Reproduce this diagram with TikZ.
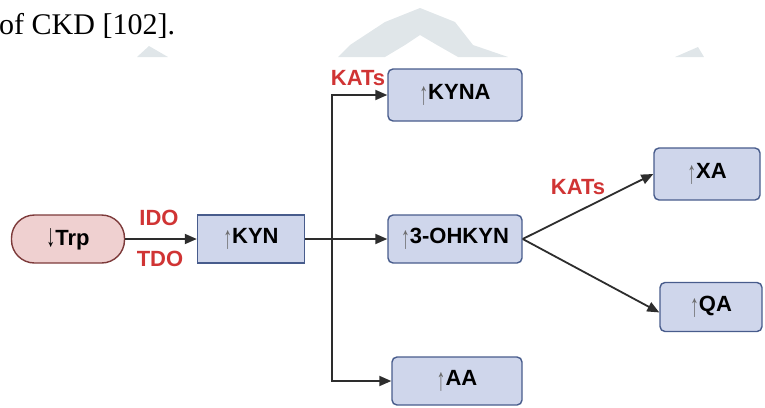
\documentclass[tikz,border=0pt]{standalone}
\usepackage{fontspec}
\setmainfont{Liberation Sans}
\newfontfamily\capfont{Liberation Serif}
\usetikzlibrary{arrows.meta,positioning,calc}
\definecolor{boxfill}{RGB}{207,214,235}
\definecolor{boxline}{RGB}{72,92,140}
\definecolor{trpfill}{RGB}{239,208,208}
\definecolor{trpline}{RGB}{125,58,58}
\definecolor{enzred}{RGB}{208,52,52}
\definecolor{wire}{RGB}{45,45,45}
\definecolor{arrgray}{RGB}{105,105,105}
\definecolor{wmark}{RGB}{224,230,233}
\newcommand\upar{\textcolor{arrgray}{\mdseries\raisebox{-0.25em}{\scalebox{0.8}[1.45]{↑}}}}
\newcommand\dnar{{\mdseries\raisebox{-0.05em}{\scalebox{0.8}[1.45]{↓}}}}
\tikzset{
 metbox/.style={draw=boxline,fill=boxfill,line width=1.4pt,rounded corners=5pt,
             align=center,inner sep=0pt,font=\bfseries\fontsize{22}{24}\selectfont},
 trpbox/.style={draw=trpline,fill=trpfill,line width=1.4pt,rounded corners=23pt,
             align=center,inner sep=0pt,font=\bfseries\fontsize{22}{24}\selectfont},
 enzyme/.style={text=enzred,inner sep=0pt,font=\bfseries\fontsize{22}{24}\selectfont},
 arrow/.style={-{Triangle[length=12pt,width=10pt]},line width=1.8pt,draw=wire}
}
\begin{document}
\begin{tikzpicture}[x=1pt,y=-1pt]
\useasboundingbox (0,0) rectangle (765,407);
% faint watermark behind the figure
\fill[wmark] (338,57) -- (350,45) -- (385,22) -- (420,8) -- (455,22) -- (473,45) -- (508,57)
  -- (458,57) -- (437,45) -- (420,35) -- (405,45) -- (385,57) -- cycle;
\fill[wmark] (137,57) -- (149,46) -- (168,57) -- cycle;
\fill[wmark] (675,57) -- (698,47) -- (704,57) -- cycle;
\node[anchor=base west,inner sep=0pt,font=\capfont\fontsize{30}{32}\selectfont] (cap) at (-1,34) {of CKD [102].};

% metabolites
\node[trpbox,minimum width=113pt,minimum height=48pt] (trp) at (68,239) {\dnar Trp};
\node[metbox,rounded corners=0pt,minimum width=107pt,minimum height=48pt] (kyn) at (251,239) {\upar KYN};
\node[metbox,minimum width=134pt,minimum height=52pt] (kyna) at (455,95) {\upar KYNA};
\node[metbox,minimum width=134pt,minimum height=48pt] (ohkyn) at (455,239) {\upar 3-OHKYN};
\node[metbox,minimum width=130pt,minimum height=48pt] (aa) at (457,381) {\upar AA};
\node[metbox,minimum width=106pt,minimum height=52pt] (xa) at (707,174) {\upar XA};
\node[metbox,minimum width=102pt,minimum height=49pt] (qa) at (711,307) {\upar QA};

% enzymes
\node[enzyme] (ido) at (159,218) {IDO};
\node[enzyme] (tdo) at (160,259) {TDO};
\node[enzyme] (kats1) at (358,78) {KATs};
\node[enzyme] (kats2) at (578,187) {KATs};

% connectors
\coordinate (split) at (332,239);
\draw[arrow] (trp) -- (kyn);
\draw[arrow] (kyn) -- (ohkyn);
\draw[arrow] (split) |- (kyna.west);
\draw[arrow] (split) |- (aa.west);
\draw[arrow] (ohkyn.east) -- (xa.west);
\draw[arrow] (ohkyn.east) -- (qa.186);
\end{tikzpicture}
\end{document}
